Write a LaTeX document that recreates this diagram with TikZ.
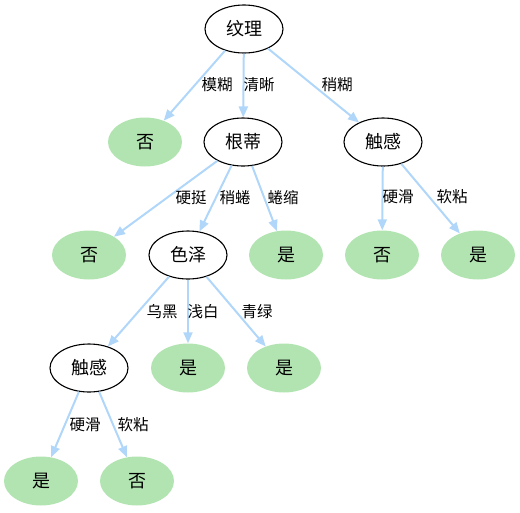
\documentclass[tikz,border=0pt]{standalone}
\usepackage{fontspec}
\setmainfont{Noto Sans CJK SC}
\usetikzlibrary{shapes.geometric,arrows.meta}
\definecolor{leafgreen}{RGB}{178,228,178}
\definecolor{edgeblue}{RGB}{176,214,250}
\tikzset{
  inner/.style={ellipse,draw=black,line width=1.1pt,fill=white,minimum width=78pt,minimum height=48pt,inner sep=0pt,font=\fontsize{18}{18}\selectfont},
  leaf/.style={ellipse,fill=leafgreen,minimum width=74pt,minimum height=49pt,inner sep=0pt,font=\fontsize{18}{18}\selectfont},
  edge/.style={draw=edgeblue,line width=2pt,-{Triangle[length=11pt,width=9pt]}},
  elabel/.style={font=\fontsize{15.5}{15.5}\selectfont,inner sep=0pt}
}
\begin{document}
\begin{tikzpicture}[x=1pt,y=-1pt]
\useasboundingbox (0,0) rectangle (520,512);
\node[inner] (n0) at (244,29) {纹理};
\node[leaf] (n1) at (145,142) {否};
\node[inner] (n2) at (243,142) {根蒂};
\node[inner] (n3) at (383,142) {触感};
\node[leaf] (n4) at (89,255) {否};
\node[inner] (n5) at (188,255) {色泽};
\node[leaf] (n6) at (286,255) {是};
\node[leaf] (n7) at (382,255) {否};
\node[leaf] (n8) at (478,255) {是};
\node[inner] (n9) at (89,368) {触感};
\node[leaf] (n10) at (188,368) {是};
\node[leaf] (n11) at (284,368) {是};
\node[leaf] (n12) at (41,481) {是};
\node[leaf] (n13) at (137,481) {否};

\draw[edge] (n0) -- (n1);
\draw[edge] (n0) -- (n2);
\draw[edge] (n0) -- (n3);
\draw[edge] (n2) -- (n4);
\draw[edge] (n2) -- (n5);
\draw[edge] (n2) -- (n6);
\draw[edge] (n3) -- (n7);
\draw[edge] (n3) -- (n8);
\draw[edge] (n5) -- (n9);
\draw[edge] (n5) -- (n10);
\draw[edge] (n5) -- (n11);
\draw[edge] (n9) -- (n12);
\draw[edge] (n9) -- (n13);

\node[elabel] (l1) at (217,85) {模糊};
\node[elabel] (l2) at (259,85) {清晰};
\node[elabel] (l3) at (337,85) {稍糊};
\node[elabel] (l4) at (191,198) {硬挺};
\node[elabel] (l5) at (235,198) {稍蜷};
\node[elabel] (l6) at (283,198) {蜷缩};
\node[elabel] (l7) at (398,197) {硬滑};
\node[elabel] (l8) at (452,197) {软粘};
\node[elabel] (l9) at (162,312) {乌黑};
\node[elabel] (l10) at (203,312) {浅白};
\node[elabel] (l11) at (257,312) {青绿};
\node[elabel] (l12) at (85,425) {硬滑};
\node[elabel] (l13) at (133,425) {软粘};
\end{tikzpicture}
\end{document}
